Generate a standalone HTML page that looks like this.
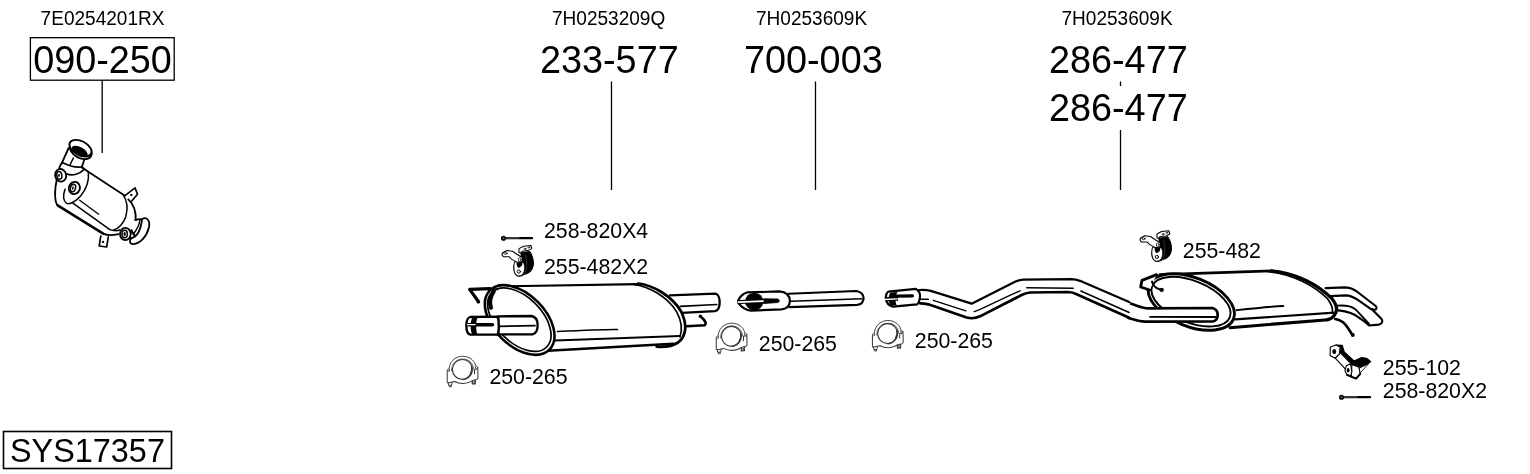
<!DOCTYPE html>
<html><head><meta charset="utf-8">
<style>
html,body{margin:0;padding:0;background:#fff;}
body{width:1530px;height:474px;overflow:hidden;}
svg{display:block;will-change:transform;}
text{font-family:"Liberation Sans",sans-serif;fill:#000;}
.s{font-size:19.05px;}
.b{font-size:37.8px;}
.m{font-size:21.3px;}
.y{font-size:32.4px;}
</style></head><body>
<svg width="1530" height="474" viewBox="0 0 1530 474">
<rect width="1530" height="474" fill="#fff"/>
<g id="labels">
<text class="s" transform="matrix(1 0 0 1.04 40.6 24.7)">7E0254201RX</text>
<text class="s" transform="matrix(1 0 0 1.04 552.0 24.7)">7H0253209Q</text>
<text class="s" transform="matrix(1 0 0 1.04 756.0 24.7)">7H0253609K</text>
<text class="s" transform="matrix(1 0 0 1.04 1061.5 24.7)">7H0253609K</text>
<text class="b" transform="matrix(1 0 0 1.04 33.2 73)">090-250</text>
<text class="b" transform="matrix(1 0 0 1.04 540 72.7)">233-577</text>
<text class="b" transform="matrix(1 0 0 1.04 744 72.7)">700-003</text>
<text class="b" transform="matrix(1 0 0 1.04 1049 72.7)">286-477</text>
<text class="b" transform="matrix(1 0 0 1.04 1049 120.7)">286-477</text>
<text class="m" transform="matrix(1 0 0 1.04 544 238)">258-820X4</text>
<text class="m" transform="matrix(1 0 0 1.04 544 274)">255-482X2</text>
<text class="m" transform="matrix(1 0 0 1.04 489.4 384)">250-265</text>
<text class="m" transform="matrix(1 0 0 1.04 758.8 351)">250-265</text>
<text class="m" transform="matrix(1 0 0 1.04 914.8 348)">250-265</text>
<text class="m" transform="matrix(1 0 0 1.04 1182.8 258)">255-482</text>
<text class="m" transform="matrix(1 0 0 1.04 1382.8 375)">255-102</text>
<text class="m" transform="matrix(1 0 0 1.04 1382.8 398)">258-820X2</text>
<text class="y" transform="matrix(1 0 0 1.04 10 461.6)">SYS17357</text>
</g>
<g id="lines" stroke="#000" stroke-width="1.3" fill="none">
<rect x="30.4" y="37.7" width="143.8" height="42.5"/>
<rect x="3.5" y="431.5" width="168" height="37" stroke-width="1.6"/>
<line x1="102.2" y1="80" x2="102.2" y2="153"/>
<line x1="611.5" y1="81.5" x2="611.5" y2="190"/>
<line x1="815.5" y1="81.5" x2="815.5" y2="190"/>
<line x1="1120.5" y1="81.5" x2="1120.5" y2="86"/>
<line x1="1120.5" y1="130" x2="1120.5" y2="190"/>
</g>
<!-- converter: traced in zoom coords (offset 40,130 scale 1/6) -->
<g transform="translate(40,130) scale(0.166667)" fill="none" stroke="#000" stroke-width="11" stroke-linecap="round" stroke-linejoin="round">
<!-- neck -->
<path d="M172,108 L130,200 M265,180 L250,225"/>
<path d="M135,195 C170,215 215,225 250,222" stroke-width="10"/>
<path d="M200,168 L180,210" stroke-width="9"/>
<!-- flange -->
<ellipse cx="245" cy="123" rx="70" ry="45" transform="rotate(28 245 123)" fill="#fff"/>
<ellipse cx="243" cy="109" rx="72" ry="42" transform="rotate(28 243 109)" fill="#fff"/>
<ellipse cx="238" cy="127" rx="52" ry="25" transform="rotate(28 238 127)" fill="#000" stroke="none"/>
<!-- shoulder -->
<path d="M250,222 C262,232 275,240 285,248"/>
<path d="M158,262 C195,280 240,262 265,236" stroke-width="10"/>
<!-- body outline -->
<path d="M285,248 L505,392"/>
<path d="M130,200 C118,215 112,235 118,250 M100,300 C92,340 88,400 95,430 C98,445 104,452 112,458" />
<path d="M106,452 L379,622" stroke-width="15"/>
<path d="M193,436 L417,596" stroke-width="9"/>
<path d="M238,421 L352,505" stroke-width="8"/>
<!-- left endcap seam -->
<path d="M290,255 C296,300 280,350 245,395 C215,430 180,448 160,440 C140,425 138,390 150,355" stroke-width="9"/>
<!-- right seam -->
<path d="M500,391 C520,420 528,470 515,520 C500,560 470,590 440,601" stroke-width="9"/>
<path d="M530,416 C555,440 578,480 574,540"/>
<!-- bottom right edge to sensor -->
<path d="M379,622 C400,632 440,632 470,625" />
<path d="M417,596 C440,606 460,606 480,600" stroke-width="9"/>
<!-- sensor 1 -->
<ellipse cx="124" cy="272" rx="33" ry="38" fill="#fff" transform="rotate(-15 124 272)"/>
<ellipse cx="116" cy="272" rx="15" ry="23" transform="rotate(-10 116 272)" stroke-width="9"/>
<ellipse cx="114" cy="272" rx="5" ry="10" fill="#000" stroke="none"/>
<!-- sensor 2 -->
<ellipse cx="206" cy="348" rx="33" ry="37" fill="#fff" transform="rotate(20 206 348)"/>
<ellipse cx="198" cy="348" rx="15" ry="23" transform="rotate(15 198 348)" stroke-width="9"/>
<ellipse cx="197" cy="348" rx="5" ry="11" fill="#000" stroke="none" transform="rotate(15 197 348)"/>
<!-- top bracket -->
<path d="M508,395 L570,347 L585,385 L545,432" stroke-width="10"/>
<circle cx="548" cy="390" r="7" fill="#000" stroke="none"/>
<!-- bottom bracket -->
<path d="M365,636 L355,696 L400,702 L410,641" stroke-width="10"/>
<circle cx="378" cy="671" r="7" fill="#000" stroke="none"/>
<!-- outlet -->
<path d="M572,541 C585,535 600,533 612,536 M548,600 C560,625 570,640 580,650" />
<path d="M600,540 C595,570 580,600 560,625" stroke-width="9"/>
<path d="M612,536 C640,515 665,545 652,590 C640,640 600,680 560,685 C535,685 535,660 548,650 C580,640 605,600 612,536 Z" fill="#fff"/>
<path d="M545,650 C535,640 540,620 548,612" />
<!-- sensor 3 -->
<ellipse cx="512" cy="624" rx="32" ry="37" fill="#fff"/>
<ellipse cx="508" cy="624" rx="16" ry="22" stroke-width="9"/>
<ellipse cx="508" cy="624" rx="7" ry="12" fill="#000" stroke="none"/>
</g>
<!-- front muffler: zoom coords (offset 465,281 scale 1/6) -->
<g transform="translate(465,281) scale(0.166667)" fill="none" stroke="#000" stroke-width="14.1" stroke-linecap="round" stroke-linejoin="round">
<!-- outlet pipe -->
<path d="M1230,86 L1500,76 C1520,78 1528,105 1528,128 C1528,155 1518,178 1500,181 L1300,191" fill="#fff"/>
<path d="M1292,152 L1510,141" stroke-width="10.2"/>
<!-- body -->
<path d="M240,28 L1040,15 C1130,25 1240,90 1295,180 C1325,240 1328,300 1305,340 C1280,375 1220,395 1160,392 L1250,377 L400,440 Z" fill="#fff" stroke="none"/>
<path d="M240,32 L1040,19" stroke-width="13"/>
<path d="M1040,15 C1130,25 1240,90 1295,180 C1325,240 1328,300 1305,340 C1280,380 1220,398 1150,394" stroke-width="16.6"/>
<path d="M1010,20 C1100,30 1215,95 1270,185 C1300,240 1305,290 1290,335" stroke-width="10.2"/>
<path d="M470,420 L1250,377" stroke-width="15.4"/>
<path d="M540,357 L1290,330" stroke-width="11.5"/>
<path d="M555,303 C700,296 850,290 915,291" stroke-width="10.2"/>
<!-- front cap -->
<ellipse cx="328" cy="234" rx="252" ry="154" transform="rotate(45 328 234)" fill="#fff" stroke-width="15.4"/>
<ellipse cx="326" cy="232" rx="232" ry="136" transform="rotate(45 326 232)" stroke-width="10.2"/>
<!-- inlet pipe -->
<path d="M200,212 L400,210 C425,215 436,240 436,265 C436,292 425,315 405,320 L200,320 Z" fill="#fff"/>
<path d="M200,272 L420,268" stroke-width="10.2"/>
<path d="M195,214 L30,216 C12,222 8,245 8,268 C8,295 14,318 32,322 L195,322 C205,300 205,240 195,214 Z" fill="#fff"/>
<path d="M45,220 C30,240 30,300 45,320 L75,320 C65,300 65,240 75,220 Z" fill="#000" stroke="none"/>
<path d="M15,262 L165,262" stroke-width="20.5"/>
<path d="M15,262 L60,262" stroke="#fff" stroke-width="7.7"/>
<!-- left hanger -->
<path d="M150,46 L28,50 L78,120" stroke-width="19"/>
<circle cx="80" cy="124" r="11" fill="#000" stroke="none"/>
<path d="M150,46 L195,50" stroke-width="11.5"/>
<path d="M172,62 C150,95 145,130 155,160" stroke-width="25.6"/>
<!-- right hanger -->
<path d="M1330,272 L1438,266 C1450,255 1445,240 1412,212" stroke-width="15.4"/>
<circle cx="1412" cy="211" r="10" fill="#000" stroke="none"/>
</g>
<!-- middle pipe: zoom coords (offset 730,280 scale 140/1530) -->
<g transform="translate(730,280) scale(0.0915)" fill="none" stroke="#000" stroke-width="24" stroke-linecap="round" stroke-linejoin="round">
<path d="M640,150 L1380,120 C1430,125 1462,160 1460,200 C1458,240 1430,268 1390,272 L650,296" fill="#fff"/>
<path d="M670,232 L1440,205" stroke-width="18"/>
<path d="M90,222 C110,180 140,150 185,136 L540,125 C610,130 652,170 655,230 C652,290 610,318 560,322 L230,335 C170,330 120,290 90,250 Z" fill="#fff"/>
<ellipse cx="265" cy="235" rx="100" ry="97" fill="#000" stroke="none"/>
<path d="M370,206 L520,208 C545,215 545,240 520,246 L370,256 Z" fill="#000" stroke-width="10"/>
<path d="M95,240 L370,230" stroke="#000" stroke-width="44" stroke-linecap="butt"/>
<path d="M85,241 L368,231" stroke="#fff" stroke-width="20" stroke-linecap="butt"/>
</g>
<!-- rear muffler: zoom coords R2 (offset 1130,255 scale 1/6) -->
<g transform="translate(1130,255) scale(0.166667)" fill="none" stroke="#000" stroke-width="16.1" stroke-linecap="round" stroke-linejoin="round">
<!-- tailpipes -->
<path d="M1174,199 L1292,194 C1325,196 1345,205 1365,222 L1474,306 C1486,318 1478,330 1462,328 L1444,323 L1365,268 C1340,250 1320,243 1292,242 L1207,247" fill="#fff" stroke-width="13"/>
<path d="M1245,304 C1300,300 1330,308 1352,325 L1435,413" stroke-width="11"/>
<path d="M1454,328 L1508,382 C1520,395 1515,412 1492,418 L1435,423 C1410,400 1390,385 1372,375 C1350,355 1320,340 1250,332" stroke-width="13"/>
<!-- rear hanger rod -->
<path d="M1231,384 C1255,388 1275,398 1290,415 C1305,432 1315,450 1332,476" stroke-width="16"/>
<circle cx="1337" cy="480" r="12" fill="#000" stroke="none"/>
<!-- body -->
<path d="M250,115 L850,95 C1000,110 1130,185 1210,260 C1240,300 1245,335 1225,362 L1190,388 L600,442 Z" fill="#fff" stroke="none"/>
<path d="M180,118 L850,95"/>
<path d="M850,95 C1000,108 1130,180 1212,262 C1242,300 1248,335 1226,362 C1215,378 1200,385 1185,388" stroke-width="19.5"/>
<path d="M830,100 C980,115 1105,185 1185,262 C1212,298 1220,325 1212,350" stroke-width="10.3"/>
<path d="M600,436 L1190,388" stroke-width="18.4"/>
<path d="M630,386 L1228,346" stroke-width="12.6"/>
<path d="M640,331 C760,318 860,308 920,306" stroke-width="11.5"/>
<!-- front cap -->
<ellipse cx="368" cy="282" rx="273" ry="146" transform="rotate(22 368 282)" fill="#fff" stroke-width="17.2"/>
<ellipse cx="366" cy="280" rx="251" ry="125" transform="rotate(22 366 280)" stroke-width="11.5"/>
<!-- hanger tab -->
<path d="M160,118 L72,152 L64,192 L118,210" stroke-width="17" fill="#fff"/>
<path d="M132,160 C140,185 150,200 185,208" stroke-width="12.6"/>
<circle cx="190" cy="209" r="13" fill="#000" stroke="none"/>
<!-- inlet pipe end inside cap -->
<path d="M-10,288 C40,300 70,320 110,320 L495,318 C518,325 526,340 526,358 C526,378 518,392 500,398 L90,400 C50,398 20,385 -10,378 Z" fill="#fff" stroke="none"/>
<path d="M-10,288 C40,300 70,320 110,320 L495,318 C518,325 526,340 526,358 C526,378 518,392 500,398 L90,400 C50,398 20,385 -10,378"/>
<path d="M120,371 L512,372" stroke-width="11.5"/>
</g>
<!-- rear pipe: zoom coords R1 (offset 880,265 scale 1/6) -->
<g transform="translate(880,265) scale(0.166667)" fill="none" stroke="#000" stroke-width="13.3" stroke-linecap="round" stroke-linejoin="round">
<path d="M235,150 C260,148 285,150 305,155 L550,232 L810,100 C830,92 845,88 860,88 L1150,85 C1170,86 1185,90 1200,95 L1500,225 L1500,320 L1180,175 C1165,168 1150,163 1130,162 L900,165 C880,167 865,172 850,180 L600,308 C575,320 545,322 520,315 L290,236 C270,231 255,230 240,230 Z" fill="#fff" stroke="none"/>
<path d="M235,150 C260,148 285,150 305,155 L550,232 L810,100 C830,92 845,88 860,88 L1150,85 C1170,86 1185,90 1200,95 L1495,222"/>
<path d="M240,230 C255,230 270,231 290,236 L520,315 C545,322 575,320 600,308 L850,180 C865,172 880,167 900,165 L1130,162 C1150,163 1165,168 1180,175 L1495,317" stroke-width="16.1"/>
<path d="M320,212 L515,275 M565,280 C600,272 700,215 840,155 M880,136 L1160,139 M1205,156 L1495,285 M245,205 L290,205" stroke-width="8.5"/>
<!-- socket -->
<path d="M50,160 L215,143 C235,155 242,175 240,192 C238,215 232,228 222,236 L78,250 C55,245 38,225 35,200 C35,180 42,165 50,160 Z" fill="#fff"/>
<path d="M62,165 C48,185 48,225 65,245 L100,240 C90,220 90,185 105,162 Z" fill="#000" stroke="none"/>
<path d="M100,187 L195,185" stroke-width="19"/>
<path d="M30,206 L108,202" stroke="#000" stroke-width="24.7" stroke-linecap="butt"/>
<path d="M26,207 L106,203" stroke="#fff" stroke-width="8.5" stroke-linecap="butt"/>
</g>
<!-- clamp symbol: zoom coords scale 60/632 -->
<defs>
<g id="clamp" fill="none" stroke="#3a3a3a" stroke-width="11" stroke-linecap="round" stroke-linejoin="round">
<!-- saddle -->
<path d="M118,222 L118,335 C118,345 125,348 135,346 L200,332 C250,362 330,360 385,322 L430,310 C440,306 442,300 442,290 L440,195 L405,205 L405,250" fill="#fff"/>
<!-- ubolt outer -->
<path d="M137,222 C130,130 200,66 280,66 C360,66 420,120 422,190" stroke-width="10"/>
<path d="M165,222 C160,150 215,95 280,95 C345,95 392,140 395,200" stroke-width="9"/>
<!-- pipe circle -->
<circle cx="278" cy="205" r="105" fill="#fff" stroke-width="12"/>
<path d="M375,170 C390,230 350,300 290,310" stroke-width="16"/>
<!-- studs -->
<circle cx="130" cy="214" r="12" stroke-width="9" fill="#fff"/>
<circle cx="428" cy="186" r="12" stroke-width="9" fill="#fff"/>
<path d="M130,345 L132,372 L165,372 L170,338 M140,372 L142,388 L160,388 L160,372" stroke-width="10"/>
<path d="M382,325 L382,358 L414,356 L414,318" stroke-width="13"/>
<path d="M390,330 L390,355 M405,330 L405,352" stroke-width="8"/>
</g>
</defs>
<use href="#clamp" transform="translate(436,350) scale(0.09494)"/>
<use href="#clamp" transform="translate(705.05,316.9) scale(0.09494)"/>
<use href="#clamp" transform="translate(861.24,314.2) scale(0.09494)"/>
<defs>
<!-- bolt: zoom coords scale 50/431 ; head centre (82,88) -->
<g id="bolt" fill="none" stroke="#000" stroke-linecap="round">
<path d="M100,88 L328,88" stroke-width="20"/>
<path d="M104,86 L215,86" stroke="#bbb" stroke-width="5"/>
<circle cx="82" cy="88" r="16" stroke-width="12" fill="#555"/>
</g>
<!-- rubber hanger -->
<g id="rubber" stroke="#000" stroke-width="9" stroke-linejoin="round" stroke-linecap="round">
<path d="M232,215 L308,203 C330,235 345,280 338,325 C330,365 305,390 262,400 L238,412 C215,420 190,410 178,385 C168,355 168,320 185,292 L240,290 Z" fill="#000"/>
<path d="M262,400 C285,360 290,290 272,235" stroke="#666" stroke-width="4" fill="none"/>
<path d="M178,293 C165,330 170,380 190,402 C205,418 232,415 248,398 C268,370 270,330 255,298 Z" fill="#fff" stroke-width="8"/>
<path d="M196,298 C192,320 200,340 215,345 C235,340 248,320 244,298 Z" fill="#000" stroke="none"/>
<circle cx="214" cy="376" r="14" fill="#fff" stroke-width="8"/>
<path d="M225,338 L245,330" stroke="#fff" stroke-width="6"/>
<path d="M215,178 L255,157 L318,150 L326,178 L292,195 L245,200 L228,215 L215,212 Z" fill="#fff"/>
<ellipse cx="268" cy="180" rx="10" ry="6" fill="#fff" stroke-width="6"/>
<ellipse cx="300" cy="168" rx="8" ry="5" fill="#fff" stroke-width="6"/>
<path d="M72,215 L110,194 L160,200 L200,228 L240,252 C250,265 248,285 235,292 L200,296 L150,268 L130,247 L82,247 C70,240 68,225 72,215 Z" fill="#fff"/>
<ellipse cx="100" cy="219" rx="14" ry="8" fill="#fff" stroke-width="7"/>
<ellipse cx="222" cy="272" rx="12" ry="16" fill="#fff" stroke-width="7"/>
</g>
</defs>
<use href="#bolt" transform="translate(494,228) scale(0.116)"/>
<use href="#rubber" transform="translate(494,228) scale(0.116)"/>
<use href="#rubber" transform="translate(1132,213.3) scale(0.116)"/>
<use href="#bolt" transform="translate(1332,387) scale(0.116)"/>
<!-- bracket 255-102: zoom coords scale 60/431 offset 1322,338 -->
<g transform="translate(1322,338) scale(0.1392)" stroke="#000" stroke-width="8" stroke-linejoin="round" stroke-linecap="round">
<path d="M100,50 L145,52 L160,100 L230,165 L285,140 L320,145 L350,170 L290,215 L260,205 L205,190 L130,110 L130,65 Z" fill="#000"/>
<path d="M130,105 L210,185 L175,230 L95,145 Z" fill="#fff"/>
<path d="M60,65 L100,50 L130,65 L125,115 L95,145 L58,125 Z" fill="#fff"/>
<ellipse cx="88" cy="97" rx="14" ry="18" fill="#000" stroke="none"/>
<path d="M215,190 L265,210 L275,255 L245,290 L210,280 Z" fill="#fff"/>
<path d="M270,215 L335,185 L275,250 Z" fill="#fff" stroke-width="6"/>
<path d="M175,200 L205,185 L215,240 L205,275 L180,265 L165,235 Z" fill="#fff"/>
<ellipse cx="188" cy="232" rx="10" ry="16" fill="#000" stroke="none"/>
<path d="M180,265 L245,292 L275,258" fill="none" stroke-width="14"/>
</g>

</svg>
</body></html>
